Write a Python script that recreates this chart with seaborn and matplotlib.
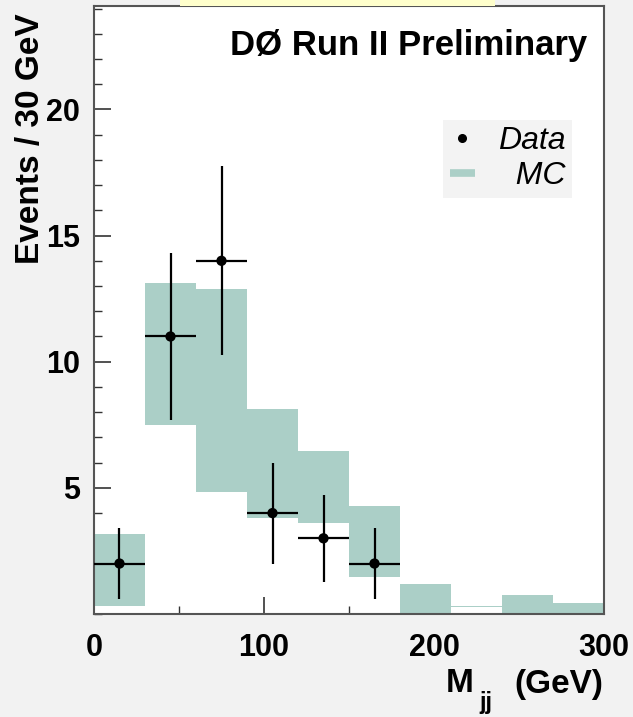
import numpy as np
import pandas as pd
import seaborn as sns
import matplotlib
matplotlib.use("Agg")
import matplotlib.pyplot as plt
from matplotlib.patches import Rectangle
from matplotlib.lines import Line2D
from matplotlib.ticker import MultipleLocator

# ---- data ----
bin_edges_left = [0, 30, 60, 90, 120, 150, 180, 210, 240, 270]
bin_width = 30
mc_low = [0.32, 7.5, 4.84, 3.81, 3.61, 1.47, 0.0, 0.27, 0.0, 0.0]
mc_high = [3.17, 13.13, 12.9, 8.13, 6.47, 4.29, 1.19, 0.33, 0.75, 0.44]

data_mjj = [15, 45, 75, 105, 135, 165]
data_events = [2, 11, 14, 4, 3, 2]
data_yerr = [1.41, 3.32, 3.74, 2.0, 1.73, 1.41]
data_xerr = [15, 15, 15, 15, 15, 15]

x_ticks = [0, 100, 200, 300]
y_ticks = [5, 10, 15, 20]

sns.set_theme(style="white")
plt.rcParams['font.family'] = ['Liberation Sans', 'DejaVu Sans']
plt.rcParams['text.color'] = 'black'
plt.rcParams['xtick.color'] = 'black'
plt.rcParams['ytick.color'] = 'black'

mc_color = "#abcfc7"
fig = plt.figure(figsize=(6.33, 7.17), dpi=100, facecolor="#f2f2f2")
ax = fig.add_axes([94/633, 1-614/717, 510/633, 608/717])
ax.set_facecolor("white")

# yellow strip at top
fig.patches.append(Rectangle((180/633, 1-6/717), 315/633, 6/717, transform=fig.transFigure,
                             facecolor="#ffffcc", edgecolor="none"))

# MC uncertainty boxes
heights = [h - l for h, l in zip(mc_high, mc_low)]
ax.bar(bin_edges_left, heights, width=bin_width, bottom=mc_low, align="edge",
       color=mc_color, edgecolor="none", zorder=1)

# data
df = pd.DataFrame({"mjj": data_mjj, "events": data_events})
ax.errorbar(data_mjj, data_events, xerr=data_xerr, yerr=data_yerr, fmt="none",
            ecolor="black", elinewidth=1.6, capsize=0, zorder=3)
sns.scatterplot(data=df, x="mjj", y="events", ax=ax, color="black", s=55,
                edgecolor="none", zorder=4, legend=False)

ax.set_xlim(0, 300)
ax.set_ylim(0, 24.1)
ax.set_xticks(x_ticks)
ax.set_yticks(y_ticks)
ax.xaxis.set_minor_locator(MultipleLocator(50))
ax.yaxis.set_minor_locator(MultipleLocator(1))
ax.tick_params(axis="both", which="major", direction="in", length=12, width=1.2,
               color="#333333", labelcolor="black", labelsize=22, pad=10)
ax.tick_params(axis="both", which="minor", direction="in", length=6, width=1.0,
               color="#333333")
ax.tick_params(axis="x", which="major", pad=14)
ax.tick_params(left=True, bottom=True, which="both")
for lab in ax.get_xticklabels() + ax.get_yticklabels():
    lab.set_fontweight("bold")
for sp in ax.spines.values():
    sp.set_color("#555555")
    sp.set_linewidth(1.5)

ax.set_xlabel("")
ax.set_ylabel("")
fig.text(446/633, 1-684/717, "M", ha="left", va="center",
         fontsize=24, fontweight="bold", color="black")
fig.text(479/633, 1-703/717, "jj", ha="left", va="center",
         fontsize=17, fontweight="bold", color="black")
fig.text(603/633, 1-684/717, "(GeV)", ha="right", va="center",
         fontsize=24, fontweight="bold", color="black")
fig.text(31/633, 1-13/717, "Events / 30 GeV", rotation=90, ha="center", va="top",
         fontsize=24, fontweight="bold", color="black")

ax.text((587-94)/510, 1 - (45-6)/608, "DØ Run II Preliminary", transform=ax.transAxes,
        ha="right", va="center", fontsize=25, fontweight="bold", color="black")

handles = [Line2D([0], [0], marker="o", color="black", linestyle="none", markersize=5.5),
           Line2D([0], [0], color=mc_color, linewidth=5.5, solid_capstyle="butt")]
leg = ax.legend(handles, ["Data", "  MC"], loc="upper right",
                bbox_to_anchor=((572-94)/510, 1 - (120-6)/608),
                frameon=True, fancybox=False, prop={"size": 23, "style": "italic"},
                handlelength=0.8, borderpad=0.2, labelspacing=0.15, handletextpad=0.72,
                borderaxespad=0)
leg.get_frame().set_facecolor("#f0f0f0")
leg.get_frame().set_edgecolor("none")
for t in leg.get_texts():
    t.set_color("black")

fig.savefig("out.png", dpi=100, facecolor=fig.get_facecolor())
